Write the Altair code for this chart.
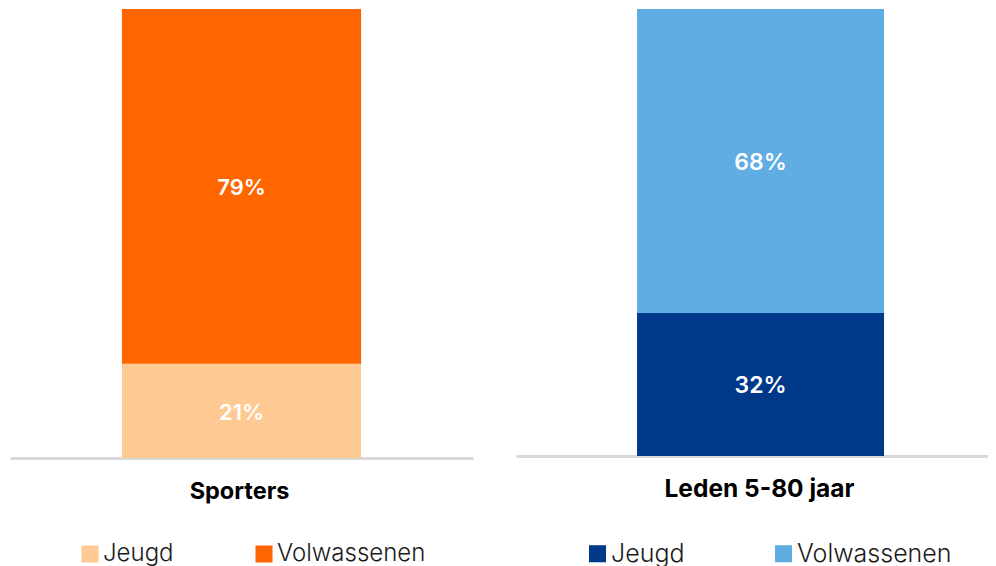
import altair as alt
import pandas as pd

# Data
groups = ["Sporters", "Sporters", "Leden 5-80 jaar", "Leden 5-80 jaar"]
segments = ["Jeugd", "Volwassenen", "Jeugd", "Volwassenen"]
shares = [0.21, 0.79, 0.32, 0.68]
segment_order = [0, 1, 0, 1]
orange_colors = ["#FFC993", "#FF6600"]
blue_colors = ["#00388A", "#5FADE3"]

df = pd.DataFrame({"groep": groups, "segment": segments, "aandeel": shares, "volgorde": segment_order})

FONT = "Inter"


def panel(name, colors, w, h, po, al, lx, ly, colpad, title_size, title_x, legend_size, label_size):
    d = df[df["groep"] == name]
    base = (
        alt.Chart(d)
        .transform_stack(
            stack="aandeel", groupby=["groep"], as_=["y0", "y1"],
            sort=[alt.SortField("volgorde", order="ascending")],
        )
        .transform_calculate(mid="(datum.y0 + datum.y1) / 2", label="format(datum.aandeel, '.0%')")
    )
    xenc = alt.X(
        "groep:N",
        title=name,
        scale=alt.Scale(paddingInner=0, paddingOuter=po, align=al),
        axis=alt.Axis(
            labels=False, ticks=False, domainColor="#D9D9D9", domainWidth=3,
            titleFontSize=title_size, titleFontWeight="bold", titlePadding=21,
            titleColor="#000000", titleFont=FONT, titleX=title_x, titleAlign="center",
        ),
    )
    bars = base.mark_bar().encode(
        x=xenc,
        y=alt.Y("y0:Q", scale=alt.Scale(domain=[0, 1]), axis=None),
        y2="y1:Q",
        color=alt.Color(
            "segment:N",
            scale=alt.Scale(domain=["Jeugd", "Volwassenen"], range=colors),
            legend=alt.Legend(
                orient="none", legendX=lx, legendY=ly, direction="horizontal",
                title=None, symbolType="square", symbolSize=290, symbolStrokeWidth=0,
                labelFontSize=legend_size, labelFont=FONT, labelColor="#1a1a1a",
                labelFontWeight=300,
                columnPadding=colpad, labelOffset=1, padding=0,
            ),
        ),
    )
    texts = base.mark_text(
        color="white", fontSize=label_size, fontWeight=600, font=FONT, dy=2
    ).encode(
        x=xenc,
        y=alt.Y("mid:Q", scale=alt.Scale(domain=[0, 1]), axis=None),
        text="label:N",
    )
    return alt.layer(bars, texts).properties(width=w, height=h)


left = panel("Sporters", orange_colors, 463, 449, 0.468, 0.5, 68, 533, 78, 23.5, 229, 24, 22)
right = panel("Leden 5-80 jaar", blue_colors, 472, 447, 0.4555, 0.538, 69, 532, 86, 24.5, 243, 25, 23)

chart = (
    alt.hconcat(left, right, spacing=43)
    .resolve_scale(color="independent", x="independent")
    .properties(padding={"left": 2, "top": 1, "right": 0, "bottom": 0})
    .configure_view(strokeWidth=0)
)

chart.save("out.html", embed_options={"renderer": "svg", "actions": False})
